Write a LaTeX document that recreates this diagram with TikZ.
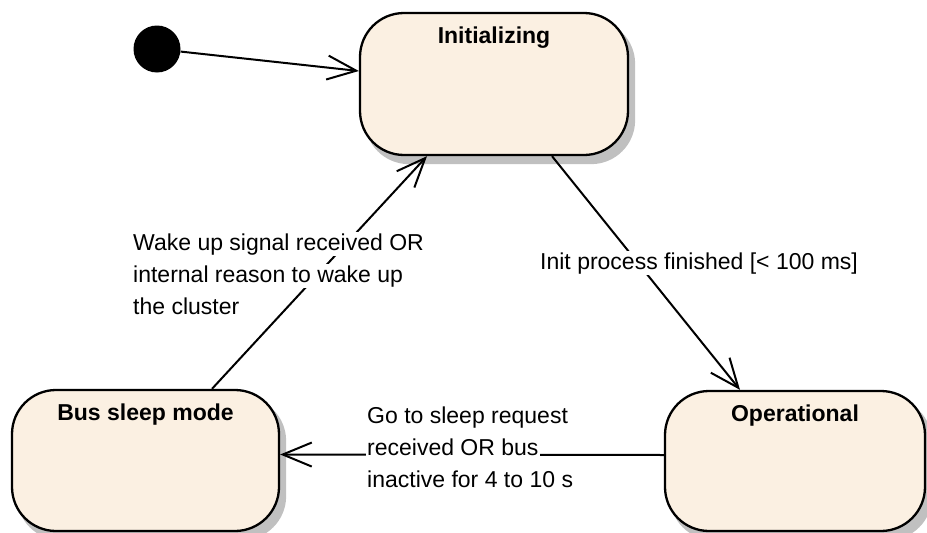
\documentclass[tikz,border=0pt]{standalone}
\usepackage{fontspec}
\setmainfont{Liberation Sans}
\usetikzlibrary{arrows.meta,backgrounds}
\definecolor{statefill}{RGB}{251,240,226}
\definecolor{shadowgray}{RGB}{192,192,192}
\newcommand{\wbox}[1]{{\setlength{\fboxsep}{1.5pt}\colorbox{white}{#1}}}
\begin{document}
\begin{tikzpicture}[x=1pt,y=-1pt,
  every node/.style={font=\fontsize{23}{32}\selectfont},
  state/.style={draw, line width=2.3pt, fill=statefill, rounded corners=44pt, inner sep=0pt},
  stateshadow/.style={fill=shadowgray, rounded corners=44pt},
  initial/.style={circle, fill=black, minimum size=47pt, inner sep=0pt},
  trans/.style={line width=2pt, -{Straight Barb[length=29pt,width=24pt]}},
  title/.style={font=\fontsize{23}{32}\selectfont\bfseries, anchor=base, inner sep=0pt, yshift=-31.5pt},
  lbl/.style={inner sep=0pt, align=left, anchor=base west}
]
\useasboundingbox (0,0) rectangle (927,533);
\node[initial] (start) at (157,49) {};
\node[state, minimum width=268pt, minimum height=142pt, label={[title]north:Initializing}] (init) at (494,84) {};
\node[state, minimum width=267pt, minimum height=141pt, label={[title]north:Bus sleep mode}] (bus) at (145.5,460.5) {};
\node[state, minimum width=260pt, minimum height=140pt, label={[title]north:Operational}] (op) at (795,461) {};

\begin{scope}[on background layer]
  \foreach \s in {init,bus,op}
    \fill[stateshadow] ([xshift=6pt,yshift=-8pt]\s.south west) rectangle ([xshift=6pt,yshift=-8pt]\s.north east);
\end{scope}

\draw[trans] (start) -- ([yshift=13pt]init.west);
\draw[trans] ([xshift=66.5pt]bus.north) -- ([xshift=-67pt]init.south);
\draw[trans] ([xshift=58pt]init.south) -- ([xshift=-55pt]op.north);
\draw[trans] ([yshift=6pt]op.west) -- ([yshift=6pt]bus.east);

\node[lbl] (lwake) at (131.5,314) {\wbox{Wake up signal received OR}\\\wbox{internal reason to wake up}\\\wbox{the cluster}};
\node[lbl] (linit) at (538.5,269) {\wbox{Init process finished [< 100 ms]}};
\node[lbl] (lsleep) at (365.5,487) {\wbox{Go to sleep request}\\\wbox{received OR bus}\\\wbox{inactive for 4 to 10 s}};
\end{tikzpicture}
\end{document}
